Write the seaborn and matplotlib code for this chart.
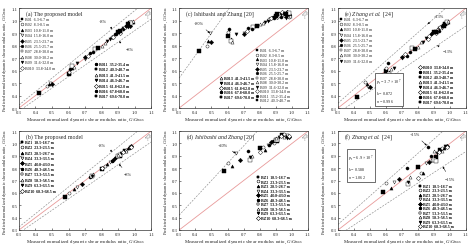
import numpy as np
import pandas as pd
import matplotlib
matplotlib.use("Agg")
import matplotlib.pyplot as plt
import seaborn as sns

sns.set_theme(style="ticks")
plt.rcParams['font.family'] = ['Liberation Serif', 'DejaVu Serif']
plt.rcParams['mathtext.fontset'] = 'custom'
plt.rcParams['mathtext.rm'] = 'Liberation Serif'
plt.rcParams['mathtext.it'] = 'Liberation Serif:italic'

# ---------------- data ----------------
b_labels = ["B01  6.3-6.7 m", "B02  8.3-8.5 m", "B03  10.8-11.0 m", "B04  15.8-16.0 m",
            "B05  23.5-23.7 m", "B06  25.5-25.7 m", "B07  28.8-30.0 m", "B08  30.0-30.2 m",
            "B09  31.6-32.0 m", "B010  33.8-34.0 m", "B011  35.2-35.4 m", "B012  40.3-40.7 m",
            "B013  41.3-41.5 m", "B014  46.3-46.7 m", "B015  61.8-62.0 m", "B016  67.8-68.0 m",
            "B017  69.6-70.0 m"]
bz_labels = ["BZ1  18.5-18.7 m", "BZ2  23.3-23.5 m", "BZ3  28.5-28.7 m", "BZ4  33.3-33.5 m",
             "BZ5  40.8-43.0 m", "BZ6  48.3-48.5 m", "BZ7  53.3-53.5 m", "BZ8  58.3-58.5 m",
             "BZ9  63.3-63.5 m", "BZ10  68.3-68.5 m"]

b_series = [0, 1, 2, 3, 4, 0, 1, 5, 2, 6, 7, 8, 3, 4, 9, 5, 10, 6, 11, 7, 12, 8,
            13, 9, 14, 10, 15, 11, 16, 12, 13, 14, 15, 16, 0, 1, 2, 3, 4, 5, 6, 7, 8, 9]
b_meas = [0.42, 0.47, 0.48, 0.49, 0.50, 0.60, 0.60, 0.61, 0.62, 0.62, 0.63, 0.65, 0.70, 0.70,
          0.72, 0.73, 0.75, 0.76, 0.78, 0.80, 0.82, 0.83, 0.85, 0.86, 0.87, 0.88, 0.89, 0.90,
          0.91, 0.92, 0.93, 0.94, 0.95, 0.96, 0.97, 0.98, 0.99, 0.95, 0.97, 0.93, 0.98, 0.99,
          0.96, 0.91]
b_pred_model = [0.42, 0.48, 0.49, 0.50, 0.49, 0.57, 0.59, 0.61, 0.62, 0.64, 0.63, 0.66, 0.69,
                0.71, 0.72, 0.74, 0.75, 0.77, 0.78, 0.80, 0.82, 0.84, 0.85, 0.87, 0.87, 0.89,
                0.89, 0.91, 0.92, 0.93, 0.94, 0.95, 0.96, 0.97, 0.98, 0.99, 0.99, 0.95, 0.96,
                0.93, 0.98, 1.00, 0.95, 0.90]
b_pred_ishibashi = [0.76, 0.80, 0.84, 0.90, 0.83, 0.88, 0.91, 0.93, 0.85, 0.84, 0.83, 0.89,
                    0.90, 0.89, 0.92, 0.94, 0.93, 0.95, 0.96, 0.97, 0.98, 0.99, 1.00, 1.01,
                    1.02, 1.03, 1.02, 1.04, 1.05, 1.06, 1.05, 1.07, 1.06, 1.05, 1.04, 1.03,
                    1.05, 1.04, 1.07, 1.03, 1.06, 1.04, 1.02, 1.03]
b_pred_zhang = [0.39, 0.51, 0.49, 0.47, 0.47, 0.60, 0.62, 0.66, 0.59, 0.57, 0.61, 0.62, 0.70,
                0.71, 0.73, 0.72, 0.75, 0.78, 0.77, 0.79, 0.83, 0.83, 0.86, 0.85, 0.88, 0.89,
                0.90, 0.91, 0.91, 0.93, 0.94, 0.95, 0.96, 0.96, 0.97, 0.98, 0.99, 0.94, 0.98,
                0.92, 0.99, 1.00, 0.97, 0.90]

bz_series = [0, 1, 2, 3, 4, 5, 6, 7, 8, 9, 0, 1, 2, 3, 4, 5, 6, 7, 8, 9, 0, 1, 2, 3, 4, 5,
             6, 7, 8, 9, 0, 1]
bz_meas = [0.58, 0.60, 0.63, 0.65, 0.68, 0.73, 0.74, 0.75, 0.74, 0.80, 0.80, 0.82, 0.83, 0.85,
           0.87, 0.88, 0.90, 0.90, 0.92, 0.93, 0.94, 0.95, 0.96, 0.97, 0.98, 0.86, 0.91, 0.95,
           0.97, 0.98, 0.91, 0.89]
bz_pred_model = [0.57, 0.60, 0.63, 0.65, 0.67, 0.73, 0.74, 0.75, 0.74, 0.80, 0.79, 0.82, 0.83,
                 0.85, 0.87, 0.88, 0.90, 0.91, 0.92, 0.93, 0.94, 0.95, 0.96, 0.97, 0.98, 0.86,
                 0.91, 0.94, 0.96, 0.97, 0.90, 0.89]
bz_pred_ishibashi = [0.78, 0.84, 0.82, 0.92, 0.87, 0.94, 0.87, 0.90, 0.89, 0.93, 0.96, 0.97,
                     0.95, 0.99, 1.01, 1.02, 1.03, 1.04, 1.05, 1.06, 1.07, 1.08, 1.06, 1.07,
                     1.05, 0.99, 1.03, 1.05, 1.04, 1.06, 1.02, 1.00]
bz_pred_zhang = [0.61, 0.68, 0.64, 0.69, 0.71, 0.80, 0.67, 0.73, 0.69, 0.72, 0.81, 0.76, 0.76,
                 0.84, 0.85, 0.90, 0.87, 0.94, 0.92, 0.93, 0.95, 0.96, 0.96, 0.97, 0.98, 0.97,
                 0.86, 0.94, 0.98, 0.97, 0.89, 0.87]

ticks = [0.3, 0.4, 0.5, 0.6, 0.7, 0.8, 0.9, 1.0, 1.1]
tick_labels = ["0.3", "0.4", "0.5", "0.6", "0.7", "0.8", "0.9", "1.0", "1.1"]

# ---------------- styling ----------------
b_markers = ['s', 'o', '^', 'v', 'D', 'o', 's', '^', 'v', 'D', 'o', 's', '^', 'v', 'D', 'o', 's']
b_filled = [True, False, True, False, True, True, False, False, True, False, True, True, False,
            True, False, True, True]
bz_markers = ['s', 'o', '^', 'v', 'D', 'o', 's', '^', 'v', 'D']
bz_filled = [True, False, True, False, True, True, False, False, True, False]

XLAB = r"Measured normalized dynamic shear modulus ratio, $G/G_{\rm max}$"
YLAB = r"Predicted normalized dynamic shear modulus ratio, $G/G_{\rm max}$"
PINK = '#e89a9a'
GRAY = '#8a8a8a'
LABFS = 3.5
YLABFS = 3.2

fig = plt.figure(figsize=(4.74, 2.53), dpi=100)
fig.patch.set_facecolor('white')

cols = [(0.040, 0.279), (0.378, 0.272), (0.713, 0.270)]
rows = [(0.569, 0.395), (0.087, 0.391)]


def set_labels(ax):
    ax.set_xlabel(XLAB, fontsize=LABFS, labelpad=1.5)
    ax.set_ylabel(YLAB, fontsize=YLABFS, labelpad=1.3)


def make_ax(col, row):
    l, w = cols[col]
    b, h = rows[row]
    ax = fig.add_axes([l, b, w, h])
    ax.set_xlim(0.3, 1.1)
    ax.set_ylim(0.3, 1.1)
    ax.set_xticks(ticks)
    ax.set_yticks(ticks)
    ax.set_xticklabels(tick_labels)
    ax.set_yticklabels(tick_labels)
    ax.tick_params(direction='in', length=1.5, width=0.4, labelsize=3.4, pad=1.2)
    for s in ax.spines.values():
        s.set_linewidth(0.5)
        s.set_color('#333333')
    xs = np.array([0.3, 1.1])
    ax.plot(xs, xs, color=PINK, lw=0.6, zorder=1)
    return ax


def guide(ax, f):
    xs = np.array([0.3, 1.1])
    ax.plot(xs, xs * f, color=GRAY, lw=0.45, ls=(0, (3, 2)), zorder=1)


def scatter(ax, meas, pred, series, labels, markers, filled):
    df = pd.DataFrame({'m': meas, 'p': pred, 's': series})
    for i, lab in enumerate(labels):
        sub = df[df['s'] == i]
        fc = 'black' if filled[i] else 'white'
        sns.scatterplot(x=sub['m'], y=sub['p'], marker=markers[i], s=5, color=fc,
                        edgecolor='black', linewidth=0.3, ax=ax, label=lab, legend=False,
                        zorder=3)
    set_labels(ax)


def legend(ax, idx, anchor, spacing=0.3):
    h, l = ax.get_legend_handles_labels()
    hh = [h[i] for i in idx]
    ll = [l[i] for i in idx]
    leg = ax.legend(hh, ll, loc='upper left', bbox_to_anchor=anchor, frameon=False,
                    fontsize=2.9, handlelength=0.6, handletextpad=0.5, labelspacing=spacing,
                    borderpad=0.1, borderaxespad=0.0, markerscale=0.9)
    ax.add_artist(leg)


def title(ax, txt):
    ax.text(0.05, 0.95, txt, transform=ax.transAxes, fontsize=4.2, va='center', ha='left')


def arrow(ax, text, tip, pos):
    ax.annotate(text, xy=tip, xytext=pos, fontsize=3.1, ha='center', va='center',
                arrowprops=dict(arrowstyle='-|>', lw=0.35, color='black', mutation_scale=2.5,
                                shrinkA=1.5, shrinkB=0))


def slope_mark(ax):
    ax.plot([0.955, 0.985, 0.985, 0.955], [0.93, 0.93, 0.97, 0.93], transform=ax.transAxes,
            color=GRAY, lw=0.35)
    ax.text(0.992, 0.95, "1", transform=ax.transAxes, fontsize=2.6, color=GRAY, va='center')
    ax.text(0.97, 0.905, "1", transform=ax.transAxes, fontsize=2.6, color=GRAY, ha='center')


def box(ax, x, y, txt, va):
    ax.text(x, y, txt, transform=ax.transAxes, fontsize=3.1, va=va, ha='left', linespacing=1.3,
            bbox=dict(boxstyle='square,pad=0.35', fc='white', ec='black', lw=0.4))


# (a)
ax = make_ax(0, 0)
guide(ax, 1.08); guide(ax, 0.92)
scatter(ax, b_meas, b_pred_model, b_series, b_labels, b_markers, b_filled)
title(ax, "(a) The proposed model")
legend(ax, list(range(10)), (0.01, 0.915), spacing=0.35)
legend(ax, list(range(10, 17)), (0.57, 0.465), spacing=0.35)
arrow(ax, "+8%", (0.865, 0.934), (0.81, 1.00))
arrow(ax, "\u22128%", (0.905, 0.833), (0.97, 0.77))
slope_mark(ax)

# (b)
ax = make_ax(0, 1)
guide(ax, 1.08); guide(ax, 0.92)
scatter(ax, bz_meas, bz_pred_model, bz_series, bz_labels, bz_markers, bz_filled)
title(ax, "(b) The proposed model")
legend(ax, list(range(10)), (0.01, 0.915), spacing=0.35)
arrow(ax, "+8%", (0.865, 0.934), (0.80, 0.99))
arrow(ax, "\u22128%", (0.905, 0.833), (0.96, 0.75))
slope_mark(ax)

# (c)
ax = make_ax(1, 0)
guide(ax, 1.8)
scatter(ax, b_meas, b_pred_ishibashi, b_series, b_labels, b_markers, b_filled)
title(ax, "(c) Ishibashi and Zhang [20]")
legend(ax, list(range(12)), (0.59, 0.60), spacing=0.13)
legend(ax, list(range(12, 17)), (0.31, 0.32), spacing=0.15)
arrow(ax, "+80%", (0.49, 0.90), (0.42, 0.98))
slope_mark(ax)

# (d)
ax = make_ax(1, 1)
guide(ax, 1.4)
scatter(ax, bz_meas, bz_pred_ishibashi, bz_series, bz_labels, bz_markers, bz_filled)
title(ax, "(d) $\\it{Ishibashi\\ and\\ Zhang}$ [20]")
legend(ax, list(range(10)), (0.60, 0.56), spacing=0.13)
arrow(ax, "+40%", (0.65, 0.92), (0.57, 0.99))
slope_mark(ax)

# (e)
ax = make_ax(2, 0)
guide(ax, 1.13); guide(ax, 0.87)
scatter(ax, b_meas, b_pred_zhang, b_series, b_labels, b_markers, b_filled)
title(ax, "(e) $\\it{Zhang\\ et\\ al.}$ [24]")
legend(ax, list(range(9)), (0.01, 0.915), spacing=0.3)
legend(ax, list(range(9, 17)), (0.63, 0.43), spacing=0.22)
arrow(ax, "+13%", (0.86, 0.972), (0.93, 1.04))
arrow(ax, "\u221213%", (0.92, 0.80), (0.99, 0.76))
box(ax, 0.30, 0.04, "$p_{\\rm r}$ = 3.7 \u00d7 10$^{7}$\n$k$ = 0.872\n$n$ = 0.996", 'bottom')
slope_mark(ax)

# (f)
ax = make_ax(2, 1)
guide(ax, 1.15); guide(ax, 0.85)
scatter(ax, bz_meas, bz_pred_zhang, bz_series, bz_labels, bz_markers, bz_filled)
title(ax, "(f) $\\it{Zhang\\ et\\ al.}$ [24]")
legend(ax, list(range(10)), (0.63, 0.47), spacing=0.12)
arrow(ax, "+15%", (0.855, 0.983), (0.78, 1.075))
arrow(ax, "\u221215%", (0.955, 0.812), (1.00, 0.715))
box(ax, 0.08, 0.78, "$p_{\\rm r}$ = 6.9 \u00d7 10$^{7}$\n$k$ = 0.588\n$n$ = 1.062", 'top')
slope_mark(ax)

fig.savefig("out.png", dpi=100, facecolor='white')
